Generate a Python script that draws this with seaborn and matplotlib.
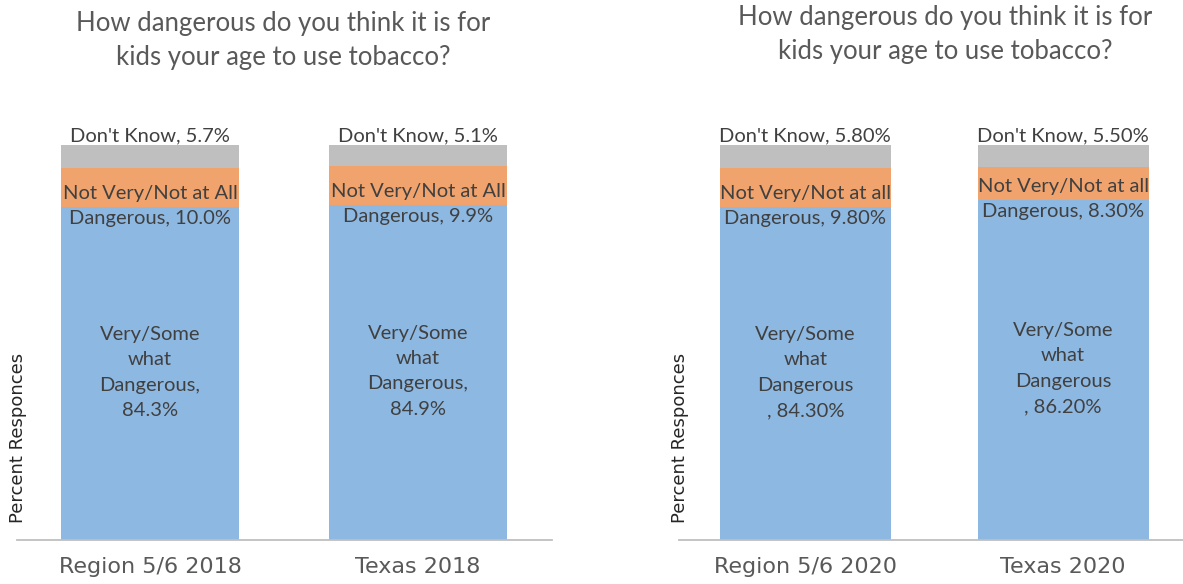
import numpy as np
import pandas as pd
import seaborn as sns
import matplotlib
matplotlib.use("Agg")
import matplotlib.pyplot as plt

# values
cats_2018 = ["Region 5/6 2018", "Texas 2018"]
very_2018 = [84.3, 84.9]
notvery_2018 = [10.0, 9.9]
dontknow_2018 = [5.7, 5.1]

cats_2020 = ["Region 5/6 2020", "Texas 2020"]
very_2020 = [84.3, 86.2]
notvery_2020 = [9.8, 8.3]
dontknow_2020 = [5.8, 5.5]

title = "How dangerous do you think it is for\nkids your age to use tobacco?"

BLUE = "#8DB8E2"
ORANGE = "#F0A36D"
GRAY = "#BFBFBF"
TXT = "#404040"

sns.set_style("white")
plt.rcParams["font.family"] = ["Lato", "DejaVu Sans"]


def panel(ax, cats, very, notvery, dk, year):
    df = pd.DataFrame({"cat": cats, "very": very, "notvery": notvery, "dk": dk})
    df["c2"] = df.very + df.notvery
    df["c3"] = df.c2 + df.dk
    # stacked bars as overlapping cumulative bars
    for col, c in [("c3", GRAY), ("c2", ORANGE), ("very", BLUE)]:
        sns.barplot(data=df, x="cat", y=col, color=c, width=0.664, saturation=1,
                    linewidth=0, ax=ax)

    for i, r in df.iterrows():
        if year == 2018:
            dk_s = f"Don't Know, {r.dk:.1f}%"
            nv_s = f"Not Very/Not at All\nDangerous, {r.notvery:.1f}%"
            v_s = f"Very/Some\nwhat\nDangerous,\n{r.very:.1f}%"
        else:
            dk_s = f"Don't Know, {r.dk:.2f}%"
            nv_s = f"Not Very/Not at all\nDangerous, {r.notvery:.2f}%"
            v_s = f"Very/Some\nwhat\nDangerous\n, {r.very:.2f}%"
        ax.text(i, r.c3 + 0.2, dk_s, ha="center", va="bottom", fontsize=14.5, color=TXT)
        ax.text(i, r.very + 0.2, nv_s, ha="center", va="center", fontsize=14.5,
                color=TXT, linespacing=1.55)
        ax.text(i, r.very / 2 + 0.3, v_s, ha="center", va="center", fontsize=14.5,
                color=TXT, linespacing=1.6)

    ax.set_ylim(0, 100)
    ax.set_yticks([])
    ax.set_xlabel("")
    ax.set_ylabel("")
    for s in ["top", "left", "right"]:
        ax.spines[s].set_visible(False)
    ax.spines["bottom"].set_color("#BFBFBF")
    ax.spines["bottom"].set_linewidth(1.3)
    ax.tick_params(axis="x", length=0, pad=12, labelsize=16, labelcolor="#595959")
    for t in ax.get_xticklabels():
        t.set_fontfamily("DejaVu Sans")
    ax.text(0.002, 0.043, "Percent Responces", transform=ax.transAxes, rotation=90,
            ha="center", va="bottom", fontsize=13, color="#262626",
            family=["DejaVu Sans"])


fig = plt.figure(figsize=(11.83, 5.84), dpi=100)
ax1 = fig.add_axes([17 / 1183, 44 / 584, 535 / 1183, 395 / 584])
ax2 = fig.add_axes([679 / 1183, 44 / 584, 504 / 1183, 395 / 584])

panel(ax1, cats_2018, very_2018, notvery_2018, dontknow_2018, 2018)
panel(ax2, cats_2020, very_2020, notvery_2020, dontknow_2020, 2020)
ax1.set_xlim(-0.496, 1.5)
ax2.set_xlim(-0.49, 1.465)

fig.text(283 / 1183, 1 - 40 / 584, title, ha="center", va="center", fontsize=18.5,
         color="#595959", linespacing=1.45)
fig.text(945 / 1183, 1 - 35 / 584, title, ha="center", va="center", fontsize=18.5,
         color="#595959", linespacing=1.45)

fig.savefig("out.png", dpi=100)
